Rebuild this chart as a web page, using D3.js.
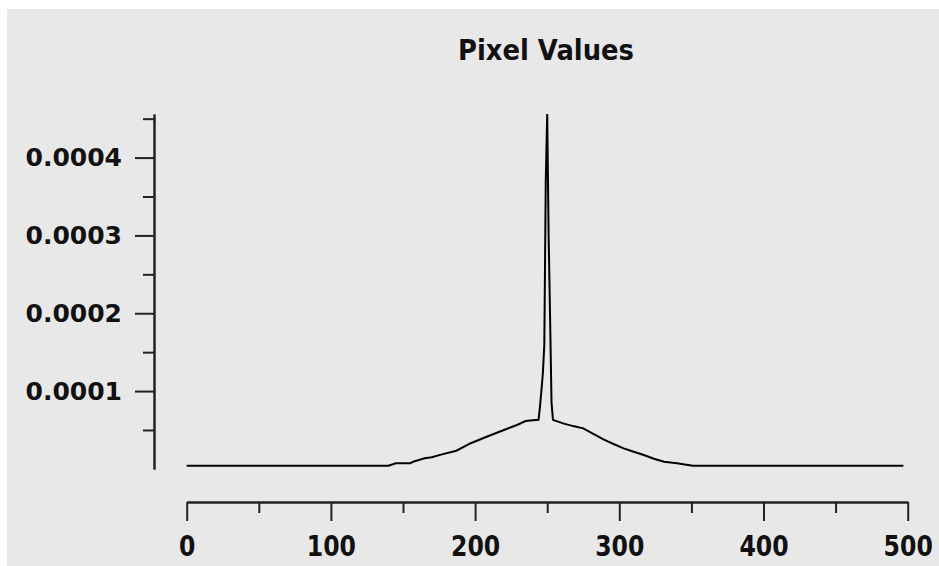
<!DOCTYPE html>
<html>
<head>
<meta charset="utf-8">
<script src="https://cdn.jsdelivr.net/npm/d3@7"></script>
<style>
  body { margin: 0; background: #fff; }
  svg text { font-family: "DejaVu Sans", sans-serif; font-weight: bold; fill: #000; }
</style>
</head>
<body>
<div id="chart"></div>
<script>
// pixel index and value
var pixelX = [0, 140, 145, 155, 157, 165, 170, 177, 187, 197, 208, 220, 229, 235, 240,
              244, 245, 246, 247, 248, 249, 250, 251, 252, 253, 254,
              261, 268, 275, 282, 289, 296, 303, 310, 317, 324, 331, 340, 351, 497];
var pixelVal = [4.1e-6, 4.1e-6, 7.2e-6, 7.2e-6, 9.2e-6, 13.6e-6, 15e-6, 18.7e-6, 23.4e-6, 33e-6, 41.3e-6, 50e-6, 56.4e-6, 61.5e-6, 62.5e-6,
              63e-6, 80e-6, 101e-6, 123e-6, 160e-6, 370e-6, 456e-6, 298e-6, 195e-6, 85e-6, 63e-6,
              58.5e-6, 55e-6, 52.1e-6, 45e-6, 38e-6, 32e-6, 26.4e-6, 22e-6, 17.8e-6, 13e-6, 9.2e-6, 7.2e-6, 4.1e-6, 4.1e-6];

var xMajor = [0, 100, 200, 300, 400, 500];
var xMinor = [50, 150, 250, 350, 450];
var yMajor = [0.0001, 0.0002, 0.0003, 0.0004];
var yMinor = [0.00005, 0.00015, 0.00025, 0.00035, 0.00045];
var yLabels = ["0.0001", "0.0002", "0.0003", "0.0004"];

var w = 939, h = 566;

var svg = d3.select("#chart").append("svg")
  .attr("width", w)
  .attr("height", h);

svg.append("rect")
  .attr("x", 7).attr("y", 9)
  .attr("width", w - 7).attr("height", h - 9)
  .style("fill", "#e8e8e8");

var xScale = d3.scaleLinear().domain([0, 500]).range([186.7, 907.7]);
var yScale = d3.scaleLinear().domain([0, 0.000456]).range([468.9, 114]);

// y axis
var yAxis = d3.axisLeft(yScale)
  .tickValues(yMajor)
  .tickFormat(function(d, i) { return yLabels[i]; })
  .tickSize(19)
  .tickSizeOuter(0)
  .tickPadding(13);

var yAxisMinor = d3.axisLeft(yScale)
  .tickValues(yMinor)
  .tickFormat("")
  .tickSize(11)
  .tickSizeOuter(0);

var gy = svg.append("g")
  .attr("transform", "translate(154,0)")
  .call(yAxis);
svg.append("g")
  .attr("transform", "translate(154,0)")
  .call(yAxisMinor);

// x axis
var xAxis = d3.axisBottom(xScale)
  .tickValues(xMajor)
  .tickFormat(d3.format("d"))
  .tickSize(19)
  .tickSizeOuter(0)
  .tickPadding(14);

var xAxisMinor = d3.axisBottom(xScale)
  .tickValues(xMinor)
  .tickFormat("")
  .tickSize(11)
  .tickSizeOuter(0);

var gx = svg.append("g")
  .attr("transform", "translate(0,502)")
  .call(xAxis);
svg.append("g")
  .attr("transform", "translate(0,502)")
  .call(xAxisMinor);

svg.selectAll(".domain, .tick line")
  .style("stroke", "#222")
  .style("stroke-width", 2);

gy.selectAll(".tick text")
  .style("font-size", "25px")
  .style("font-family", "DejaVu Sans")
  .style("font-weight", "bold")
  .style("fill", "#111");

// x labels are a bit taller in the original: stretch them vertically
gx.selectAll(".tick text")
  .style("font-size", "25px")
  .style("font-family", "DejaVu Sans")
  .style("font-weight", "bold")
  .style("fill", "#111")
  .attr("y", 28.4)
  .attr("transform", "scale(1,1.16)")
  .attr("textLength", function(d) { return String(d).length * 16.4; })
  .attr("lengthAdjust", "spacingAndGlyphs");

// data line
var pts = pixelX.map(function(x, i) { return [x, pixelVal[i]]; });

var line = d3.line()
  .x(function(d) { return xScale(d[0]); })
  .y(function(d) { return yScale(d[1]); });

svg.append("path")
  .datum(pts)
  .attr("d", line)
  .style("fill", "none")
  .style("stroke", "#000")
  .style("stroke-width", 2);

// title
svg.append("text")
  .attr("x", 546)
  .attr("y", 60)
  .attr("text-anchor", "middle")
  .attr("textLength", 176)
  .attr("lengthAdjust", "spacingAndGlyphs")
  .text("Pixel Values")
  .style("font-size", "28px")
  .style("fill", "#111");
</script>
</body>
</html>
